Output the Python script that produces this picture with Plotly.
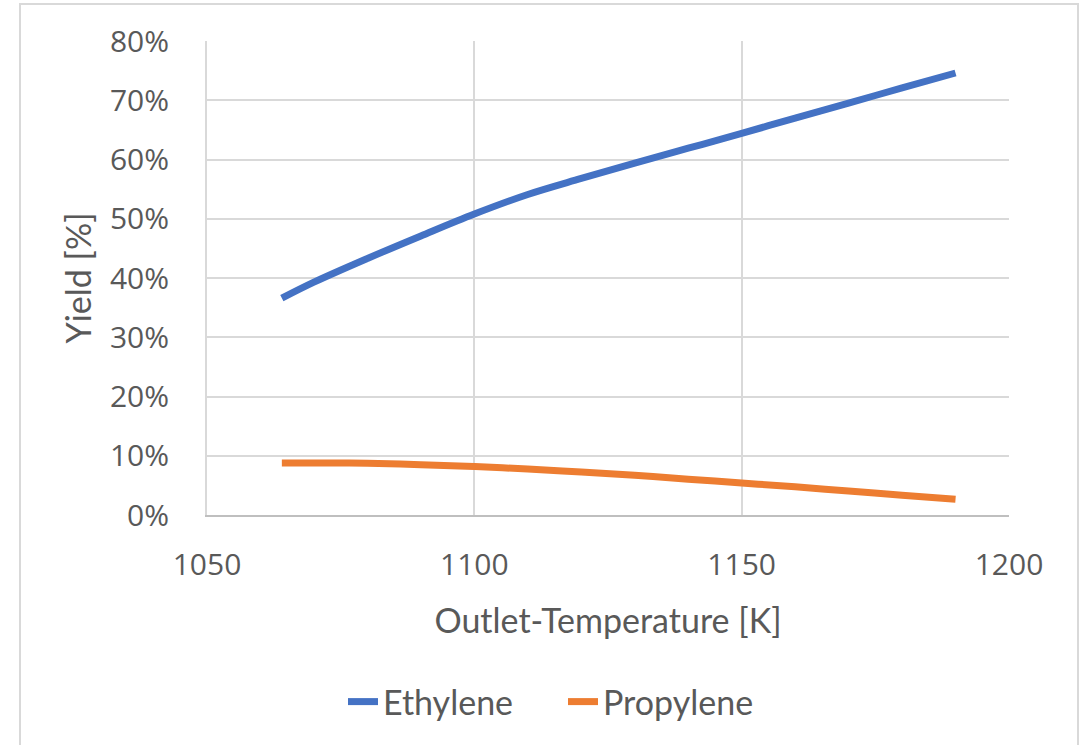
import plotly.graph_objects as go

temperature_K = [1064, 1070, 1080, 1090, 1100, 1110, 1120, 1130, 1140, 1150, 1160, 1170, 1180, 1190]
ethylene_yield = [0.366, 0.393, 0.433, 0.471, 0.508, 0.541, 0.568, 0.594, 0.619, 0.644, 0.670, 0.695, 0.721, 0.746]
propylene_yield = [0.0876, 0.0878, 0.0872, 0.0850, 0.0820, 0.0775, 0.0725, 0.0670, 0.0605, 0.0540, 0.0475, 0.0405, 0.0335, 0.0266]

x_ticks = [1050, 1100, 1150, 1200]
y_ticks = [0, 0.1, 0.2, 0.3, 0.4, 0.5, 0.6, 0.7, 0.8]

W, H = 1086, 745
L, T = 207, 41
R = W - 1009
B = H - 515
pw, ph = W - L - R, H - T - B

fig = go.Figure()
fig.add_trace(go.Scatter(x=temperature_K, y=ethylene_yield, name="Ethylene", mode="lines",
                         line=dict(color="#4472C4", width=7, shape="spline", smoothing=1)))
fig.add_trace(go.Scatter(x=temperature_K, y=propylene_yield, name="Propylene", mode="lines",
                         line=dict(color="#ED7D31", width=7, shape="spline", smoothing=1)))

title_fam = "Lato, Open Sans, sans-serif"
fig.update_layout(
    width=W, height=H,
    margin=dict(l=L, r=R, t=T, b=B, autoexpand=False),
    paper_bgcolor="white", plot_bgcolor="white",
    font=dict(family="Open Sans, Liberation Sans, sans-serif", color="#595959", size=30),
    showlegend=True,
    legend=dict(orientation="h", x=(563 - L) / pw, xanchor="center", y=(515 - 702) / ph, yanchor="middle",
                font=dict(size=34, family=title_fam, color="#595959"),
                entrywidth=175, bgcolor="rgba(0,0,0,0)"),
    xaxis=dict(range=[1050, 1200], tickvals=x_ticks, ticktext=[str(v) for v in x_ticks],
               showgrid=True, gridcolor="#d9d9d9", gridwidth=2, zeroline=False,
               showline=True, linecolor="#bfbfbf", linewidth=2,
               ticks="", ticklabelstandoff=22,
               title=dict(text="Outlet-Temperature [K]", standoff=26,
                          font=dict(size=34, family=title_fam, color="#595959"))),
    yaxis=dict(range=[0, 0.8], tickvals=y_ticks, tickformat=".0%",
               showgrid=True, gridcolor="#d9d9d9", gridwidth=2, zeroline=False,
               showline=True, linecolor="#d9d9d9", linewidth=2,
               ticks="", ticklabelstandoff=30,
               title=dict(text="Yield [%]", standoff=8,
                          font=dict(size=34, family=title_fam, color="#595959"))),
    shapes=[dict(type="rect", xref="paper", yref="paper",
                 x0=(20 - L) / pw, x1=(1078 - L) / pw, y0=(515 - 760) / ph, y1=(515 - 4) / ph,
                 line=dict(color="#d9d9d9", width=2), fillcolor="rgba(0,0,0,0)", layer="below")],
)

fig.write_html("out.html", config={"displayModeBar": False},
               post_script="document.body.style.margin='0';document.body.style.overflow='hidden';")
